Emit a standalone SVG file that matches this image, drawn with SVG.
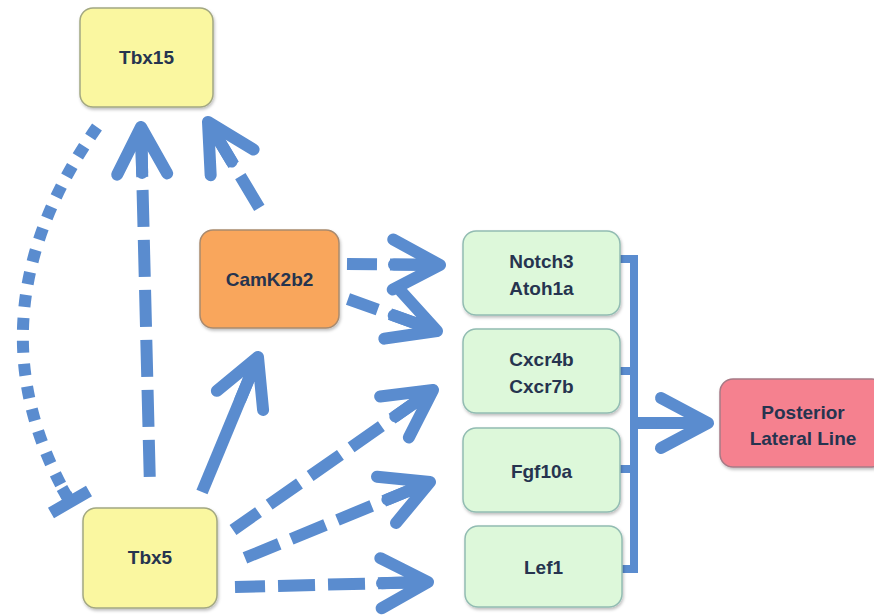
<svg xmlns="http://www.w3.org/2000/svg" width="874" height="615" viewBox="0 0 874 615">
  <defs>
    <filter id="sh" x="-10%" y="-10%" width="125%" height="130%">
      <feDropShadow dx="1" dy="2" stdDeviation="1.5" flood-color="#000" flood-opacity="0.25"/>
    </filter>
    <marker id="ah" markerUnits="userSpaceOnUse" markerWidth="80" markerHeight="80" viewBox="-70 -40 80 80" refX="0" refY="0" orient="auto-start-reverse" overflow="visible">
      <path d="M-47,-25 L0,0 L-47,25 M0,0 L-46,0" fill="none" stroke="#5A8CCF" stroke-width="12" stroke-linecap="round" stroke-linejoin="round"/>
    </marker>
  </defs>
  <style>
    .box { stroke-width: 1.5; filter: url(#sh); }
    .yellow { fill: #FAF7A0; stroke: #A3A882; }
    .orange { fill: #F9A65B; stroke: #A98A6E; }
    .green { fill: #DDF8DA; stroke: #92BCB2; }
    .pink { fill: #F5818F; stroke: #A77A86; }
    .lbl { font-family: "Liberation Sans", Arial, sans-serif; font-weight: bold; font-size: 19px; fill: #26344F; text-anchor: middle; }
    .arr { fill: none; stroke: #5A8CCF; stroke-width: 12; marker-start: url(#ah); }
    .dash { stroke-dasharray: 37 13; stroke-dashoffset: 37; }
    .dot { fill: none; stroke: #5A8CCF; stroke-width: 12; stroke-dasharray: 12 11; }
    .tbar { fill: none; stroke: #5A8CCF; stroke-width: 12; }
    .bracket { fill: none; stroke: #5A8CCF; stroke-width: 8; }
  </style>

  <g id="connectors">
    <!-- Tbx15 -| Tbx5 (dotted inhibition) -->
    <path class="dot" d="M97,127 Q-35,316 68,498"/>
    <path class="tbar" d="M62,488 L70,502 M51,513 L89,491"/>
    <!-- Tbx5 -> Tbx15 -->
    <path class="arr dash" d="M141,127 L150,488"/>
    <!-- CamK2b2 -> Tbx15 -->
    <path class="arr dash" d="M208,122 L263,214"/>
    <!-- Tbx5 -> CamK2b2 (solid) -->
    <path class="arr" d="M258,357 L202,492"/>
    <!-- CamK2b2 -> Notch3/Atoh1a -->
    <path class="arr dash" d="M440,265 L347,264"/>
    <!-- CamK2b2 -> Cxcr4b/Cxcr7b -->
    <path class="arr dash" d="M437,331 L348,299"/>
    <!-- Tbx5 -> Cxcr4b/Cxcr7b -->
    <path class="arr dash" d="M433,390 L233,530"/>
    <!-- Tbx5 -> Fgf10a -->
    <path class="arr dash" d="M430,482 L235,562"/>
    <!-- Tbx5 -> Lef1 -->
    <path class="arr dash" d="M428,582 L235,587"/>
    <!-- bracket -->
    <path class="bracket" d="M620,259 H634 V569 H620 M620,371 H634 M620,469 H634"/>
    <!-- bracket -> Posterior Lateral Line -->
    <path class="arr" d="M708,423 L634,423"/>
  </g>

  <g id="tbx15">
    <rect class="box yellow" x="80" y="8" width="133" height="99" rx="13"/>
    <text class="lbl" x="146.5" y="64">Tbx15</text>
  </g>
  <g id="tbx5">
    <rect class="box yellow" x="83" y="508" width="134" height="100" rx="13"/>
    <text class="lbl" x="150" y="564">Tbx5</text>
  </g>
  <g id="camk2b2">
    <rect class="box orange" x="200" y="230" width="139" height="98" rx="13"/>
    <text class="lbl" x="269.5" y="286">CamK2b2</text>
  </g>
  <g id="notch3">
    <rect class="box green" x="463" y="231" width="157" height="84" rx="13"/>
    <text class="lbl" x="541.5" y="268">Notch3</text>
    <text class="lbl" x="541.5" y="295">Atoh1a</text>
  </g>
  <g id="cxcr">
    <rect class="box green" x="463" y="329" width="157" height="84" rx="13"/>
    <text class="lbl" x="541.5" y="366">Cxcr4b</text>
    <text class="lbl" x="541.5" y="393">Cxcr7b</text>
  </g>
  <g id="fgf10a">
    <rect class="box green" x="463" y="428" width="157" height="84" rx="13"/>
    <text class="lbl" x="541.5" y="478">Fgf10a</text>
  </g>
  <g id="lef1">
    <rect class="box green" x="465" y="526" width="157" height="81" rx="13"/>
    <text class="lbl" x="543.5" y="574">Lef1</text>
  </g>
  <g id="pll">
    <rect class="box pink" x="720" y="379" width="165" height="88" rx="13"/>
    <text class="lbl" x="803" y="419">Posterior</text>
    <text class="lbl" x="803" y="445">Lateral Line</text>
  </g>
</svg>
